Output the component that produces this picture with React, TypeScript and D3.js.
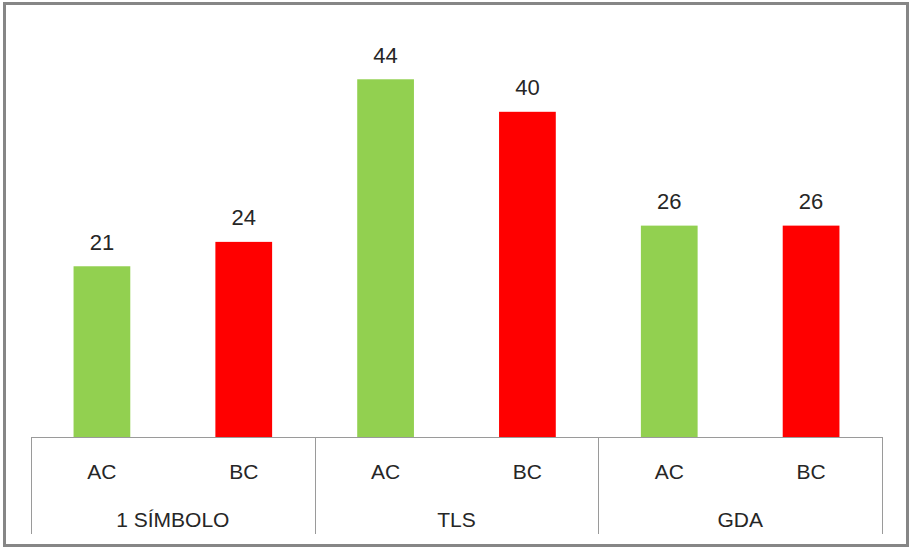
import React from "react";
import * as d3 from "d3";

const groups = ["1 SÍMBOLO", "TLS", "GDA"];
const subCategories = ["AC", "BC"];
const acValues = [21, 44, 26];
const bcValues = [24, 40, 26];
const seriesColors = ["#92D050", "#FF0000"];

const W = 911;
const H = 548;
const left = 31;
const right = 882;
const baseY = 437;
const topY = 30.5;
const axisBottom = 534;

export default function App() {
  const rows = groups.flatMap((g, gi) => [
    { group: g, sub: subCategories[0], value: acValues[gi], color: seriesColors[0], key: `${gi}-0` },
    { group: g, sub: subCategories[1], value: bcValues[gi], color: seriesColors[1], key: `${gi}-1` },
  ]);
  const xGroup = d3.scaleBand<string>().domain(groups).range([left, right]).padding(0);
  const xInner = d3
    .scaleBand<string>()
    .domain(subCategories)
    .range([0, xGroup.bandwidth()])
    .paddingInner(0.6)
    .paddingOuter(0.3);
  const y = d3.scaleLinear().domain([0, 50]).range([baseY, topY]);
  const font = "'Liberation Sans', Arial, sans-serif";
  const boundaries = [left, ...groups.map((g) => (xGroup(g) as number) + xGroup.bandwidth())];

  return (
    <svg
      width={W}
      height={H}
      style={{ position: "absolute", left: 0, top: 0, background: "#fff" }}
      fontFamily={font}
    >
      <rect x={4.5} y={3.5} width={903} height={542} fill="#fff" stroke="#868686" strokeWidth={3} />
      {rows.map((r) => {
        const x0 = (xGroup(r.group) as number) + (xInner(r.sub) as number);
        const bw = xInner.bandwidth();
        return (
          <g key={r.key}>
            <rect x={x0} y={y(r.value)} width={bw} height={baseY - y(r.value)} fill={r.color} />
            <text
              x={x0 + bw / 2}
              y={y(r.value) - 16.5}
              textAnchor="middle"
              fontSize={22}
              fill="#262626"
            >
              {r.value}
            </text>
            <text x={x0 + bw / 2} y={478.5} textAnchor="middle" fontSize={21} fill="#262626">
              {r.sub}
            </text>
          </g>
        );
      })}
      <line x1={left} x2={right} y1={baseY + 0.5} y2={baseY + 0.5} stroke="#9a9a9a" strokeWidth={1} />
      {boundaries.map((bx, i) => (
        <line
          key={i}
          x1={Math.round(bx) + 0.5}
          x2={Math.round(bx) + 0.5}
          y1={baseY}
          y2={axisBottom}
          stroke="#9a9a9a"
          strokeWidth={1}
        />
      ))}
      {groups.map((g) => (
        <text
          key={g}
          x={(xGroup(g) as number) + xGroup.bandwidth() / 2}
          y={526.5}
          textAnchor="middle"
          fontSize={21}
          fill="#262626"
        >
          {g}
        </text>
      ))}
    </svg>
  );
}
